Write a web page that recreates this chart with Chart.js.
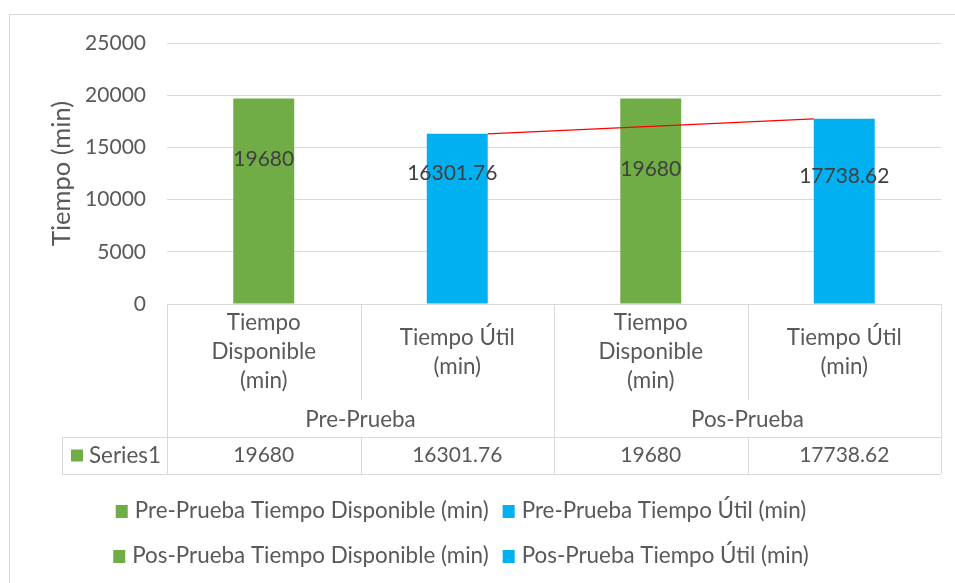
<!DOCTYPE html>
<html>
<head>
<meta charset="utf-8">
<script src="https://cdn.jsdelivr.net/npm/chart.js@4.4.1/dist/chart.umd.min.js"></script>
<style>
  html, body { margin: 0; padding: 0; background: #ffffff; }
  #wrap { width: 955px; height: 583px; position: relative; }
</style>
</head>
<body>
<div id="wrap"><canvas id="chart" width="955" height="583"></canvas></div>
<script>
// ---- data ----
const groups = ['Pre-Prueba', 'Pos-Prueba'];
const categories = [
  ['Tiempo', 'Disponible', '(min)'],
  ['Tiempo Útil', '(min)'],
  ['Tiempo', 'Disponible', '(min)'],
  ['Tiempo Útil', '(min)']
];
const seriesName = 'Series1';
const values = [19680, 16301.76, 19680, 17738.62];
const valueText = ['19680', '16301.76', '19680', '17738.62'];
const legendNames = [
  'Pre-Prueba Tiempo Disponible (min)',
  'Pre-Prueba Tiempo Útil (min)',
  'Pos-Prueba Tiempo Disponible (min)',
  'Pos-Prueba Tiempo Útil (min)'
];
const yTickValues = [0, 5000, 10000, 15000, 20000, 25000];

// ---- styling ----
const GREEN = '#70AD47';
const BLUE = '#00B0F0';
const barColors = [GREEN, BLUE, GREEN, BLUE];
const FONT = 'Lato, "Open Sans", sans-serif';
const TEXT = '#595959';
const LINE = '#d9d9d9';
const WORD_PX = 22.4;   // size for words
const NUM_PX = 21;      // size for numbers
// how far below each bar top its value label sits (px)
const labelDrop = [61, 39.5, 71, 57.5];
const labelShift = [0, -5, 0, 0];

function crisp(v) { return Math.round(v) + 0.5; }

const tablePlugin = {
  id: 'excelTable',
  beforeDraw(chart) {
    const ctx = chart.ctx;
    ctx.save();
    ctx.fillStyle = '#ffffff';
    ctx.fillRect(0, 0, chart.width, chart.height);
    ctx.strokeStyle = LINE;
    ctx.lineWidth = 1;
    ctx.strokeRect(9.5, 14.5, 2000, 2000);
    ctx.restore();
  },
  afterDatasetsDraw(chart) {
    const ctx = chart.ctx;
    const bars = chart.getDatasetMeta(0).data;
    // connector between the two "Tiempo Útil" bars
    const a = bars[1], b = bars[3];
    ctx.save();
    ctx.strokeStyle = '#FF0000';
    ctx.lineWidth = 1.2;
    ctx.beginPath();
    ctx.moveTo(a.x + a.width / 2, a.y);
    ctx.lineTo(b.x - b.width / 2, b.y);
    ctx.stroke();
    // value labels
    ctx.fillStyle = '#404040';
    ctx.font = NUM_PX + 'px ' + FONT;
    ctx.textAlign = 'center';
    ctx.textBaseline = 'middle';
    bars.forEach((bar, i) => {
      ctx.fillText(valueText[i], bar.x + labelShift[i], bar.y + labelDrop[i]);
    });
    ctx.restore();
  },
  afterDraw(chart) {
    const ctx = chart.ctx;
    const xs = chart.scales.x;
    const ca = chart.chartArea;
    const colW = (ca.right - ca.left) / categories.length;
    const edge = i => xs.getPixelForValue(0) - colW / 2 + i * colW;
    const top = ca.bottom;
    const catBottom = top + 96;
    const grpBottom = top + 133;
    const tblBottom = top + 170;
    const keyLeft = 62;

    ctx.save();
    ctx.strokeStyle = LINE;
    ctx.lineWidth = 1;
    ctx.beginPath();
    // vertical dividers
    for (let i = 0; i <= categories.length; i++) {
      const x = crisp(edge(i));
      const groupEdge = (i % 2 === 0);
      ctx.moveTo(x, top);
      if (groupEdge) {
        ctx.lineTo(x, tblBottom);
      } else {
        ctx.lineTo(x, catBottom);
        ctx.moveTo(x, grpBottom);
        ctx.lineTo(x, tblBottom);
      }
    }
    // horizontal rows
    ctx.moveTo(keyLeft, crisp(grpBottom));
    ctx.lineTo(edge(categories.length), crisp(grpBottom));
    ctx.moveTo(keyLeft, crisp(tblBottom));
    ctx.lineTo(edge(categories.length), crisp(tblBottom));
    ctx.moveTo(crisp(keyLeft), grpBottom);
    ctx.lineTo(crisp(keyLeft), tblBottom);
    ctx.stroke();

    // category labels
    ctx.fillStyle = TEXT;
    ctx.font = WORD_PX + 'px ' + FONT;
    ctx.textAlign = 'center';
    ctx.textBaseline = 'middle';
    const lh = 29;
    categories.forEach((lines, i) => {
      const cx = xs.getPixelForValue(i);
      const cy = (top + catBottom) / 2;
      const y0 = cy - (lines.length - 1) * lh / 2;
      lines.forEach((t, k) => ctx.fillText(t, cx, y0 + k * lh));
    });
    // group labels
    groups.forEach((g, gi) => {
      const cx = (edge(gi * 2) + edge(gi * 2 + 2)) / 2;
      ctx.fillText(g, cx, (catBottom + grpBottom) / 2 + 1);
    });
    // series row
    const rowY = (grpBottom + tblBottom) / 2;
    ctx.font = NUM_PX + 'px ' + FONT;
    values.forEach((v, i) => {
      ctx.fillText(valueText[i], xs.getPixelForValue(i), rowY);
    });
    ctx.fillStyle = GREEN;
    ctx.fillRect(71, rowY - 6, 12, 12);
    ctx.fillStyle = TEXT;
    ctx.textAlign = 'left';
    ctx.font = WORD_PX + 'px ' + FONT;
    ctx.fillText(seriesName, 89, rowY);

    // legend, two entries per row
    const rows = [[0, 1], [2, 3]];
    const rowYs = [511, 556];
    const box = 12, gap = 7, between = 14;
    const centerX = 461;
    rows.forEach((r, ri) => {
      const widths = r.map(i => box + gap + ctx.measureText(legendNames[i]).width);
      const total = widths[0] + between + widths[1];
      let x = centerX - total / 2;
      r.forEach((i, k) => {
        ctx.fillStyle = barColors[i];
        ctx.fillRect(x, rowYs[ri] - box / 2, box, box + 1);
        ctx.fillStyle = TEXT;
        ctx.textAlign = 'left';
        ctx.fillText(legendNames[i], x + box + gap, rowYs[ri]);
        x += widths[k] + between;
      });
    });
    ctx.restore();
  }
};

new Chart(document.getElementById('chart'), {
  type: 'bar',
  data: {
    labels: categories.map(c => c.join(' ')),
    datasets: [{
      label: seriesName,
      data: values,
      backgroundColor: barColors,
      borderWidth: 0,
      barPercentage: 0.315,
      categoryPercentage: 1
    }]
  },
  options: {
    responsive: false,
    animation: false,
    events: [],
    layout: { padding: { top: 43, right: 14, bottom: 279, left: 10 } },
    plugins: {
      legend: { display: false },
      tooltip: { enabled: false }
    },
    scales: {
      x: { display: false },
      y: {
        min: 0,
        max: 25000,
        afterBuildTicks(scale) {
          scale.ticks = yTickValues.map(v => ({ value: v }));
        },
        afterFit(scale) { scale.width = 157; },
        ticks: {
          font: { family: FONT, size: NUM_PX },
          color: TEXT,
          padding: 21,
          callback: v => String(v)
        },
        grid: { color: LINE, drawTicks: false, lineWidth: 1 },
        border: { display: false },
        title: {
          display: true,
          text: 'Tiempo (min)',
          font: { family: FONT, size: 25.5 },
          color: TEXT,
          padding: { top: 36.5, bottom: 0 }
        }
      }
    }
  },
  plugins: [tablePlugin]
});
</script>
</body>
</html>
